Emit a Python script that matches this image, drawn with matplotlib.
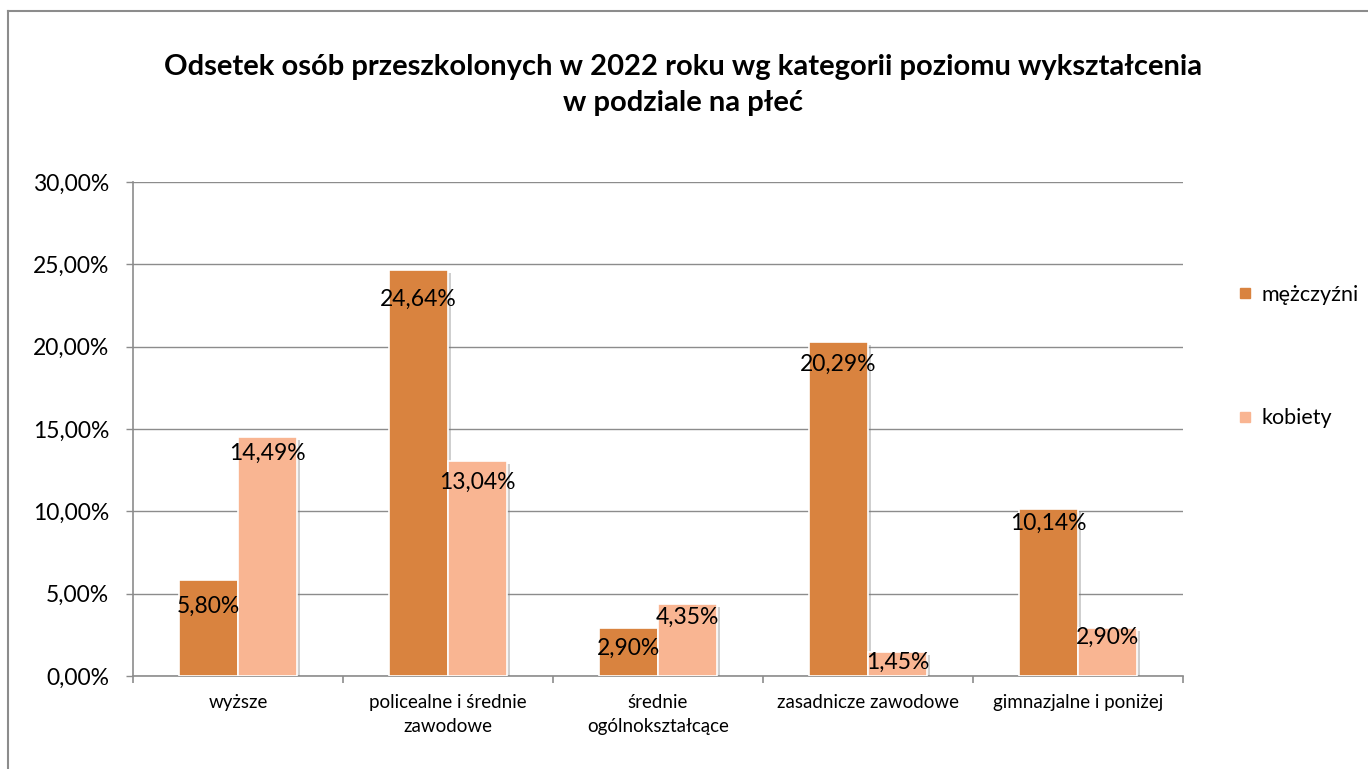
import numpy as np
import matplotlib
matplotlib.use('Agg')
import matplotlib.pyplot as plt
from matplotlib.lines import Line2D
import matplotlib.patheffects as pe

plt.rcParams['font.family'] = ['Lato', 'DejaVu Sans']

#_____________________________________________________________________________
# data

categories = ['wyższe', 'policealne i średnie\nzawodowe', 'średnie\nogólnokształcące',
              'zasadnicze zawodowe', 'gimnazjalne i poniżej']
men = [5.80, 24.64, 2.90, 20.29, 10.14]
women = [14.49, 13.04, 4.35, 1.45, 2.90]
series_names = ['mężczyźni', 'kobiety']

# label drop below bar top (pixels)
men_dy = [26, 29, 20, 22, 14]
women_dy = [16, 21, 13, 10, 9]

c_men = '#D9833F'
c_women = '#F9B592'
grid_c = '#8C8C8C'

#_____________________________________________________________________________
# figure

fig = plt.figure(figsize=(13.68, 7.69), dpi=100)
ax = fig.add_axes([133/1368, 1-676/769, (1183-133)/1368, (676-182)/769])

x = np.arange(len(categories))
w = 0.28
shadow = [pe.SimplePatchShadow(offset=(2, -2), shadow_rgbFace='#777777', alpha=0.35), pe.Normal()]

b1 = ax.bar(x - w/2, men, w, color=c_men, edgecolor='white', linewidth=1.2, zorder=3)
b2 = ax.bar(x + w/2, women, w, color=c_women, edgecolor='white', linewidth=1.2, zorder=3)
for b in list(b1) + list(b2):
    b.set_path_effects(shadow)

def fmt(v):
    return ('%.2f' % v).replace('.', ',') + '%'

for i in range(len(categories)):
    ax.annotate(fmt(men[i]), (x[i] - w/2, men[i]), xytext=(0, -men_dy[i] * 0.72),
                textcoords='offset points', ha='center', va='center', fontsize=16.5, zorder=5)
    ax.annotate(fmt(women[i]), (x[i] + w/2, women[i]), xytext=(0, -women_dy[i] * 0.72),
                textcoords='offset points', ha='center', va='center', fontsize=16.5, zorder=5)

ax.set_xlim(-0.5, len(categories) - 0.5)
ax.set_ylim(0, 30)
ax.set_yticks(np.arange(0, 31, 5))
ax.set_yticklabels([('%.2f' % v).replace('.', ',') + '%' for v in np.arange(0, 31, 5)], fontsize=16.5)
ax.yaxis.grid(True, color=grid_c, linewidth=1.0, zorder=0)
ax.set_axisbelow(True)

ax.set_xticks(x)
ax.set_xticklabels(categories, fontsize=13.5, linespacing=1.5)
ax.set_xticks(np.arange(-0.5, len(categories)), minor=True)
ax.tick_params(axis='x', which='major', length=0, pad=13)
ax.tick_params(axis='x', which='minor', length=5, color=grid_c, width=1.2)
ax.tick_params(axis='y', length=5, color=grid_c, width=1.0, pad=12)

for s in ['top', 'right']:
    ax.spines[s].set_visible(False)
for s in ['left', 'bottom']:
    ax.spines[s].set_color(grid_c)
    ax.spines[s].set_linewidth(1.2)

#_____________________________________________________________________________
# legend

handles = [Line2D([], [], linestyle='none', marker='s', markersize=7, color=c_men),
           Line2D([], [], linestyle='none', marker='s', markersize=7, color=c_women)]
fig.legend(handles, series_names, loc='upper left', bbox_to_anchor=(1239/1368, 1-285/769),
           frameon=False, fontsize=15.5, handlelength=0.6, handletextpad=0.45,
           labelspacing=4.8, borderpad=0, borderaxespad=0)

#_____________________________________________________________________________
# title and outer border

fig.text(0.499, 1-67/769, 'Odsetek osób przeszkolonych w 2022 roku wg kategorii poziomu wykształcenia',
         ha='center', va='center', fontsize=21, fontweight='bold')
fig.text(0.499, 1-103/769, 'w podziale na płeć', ha='center', va='center', fontsize=21, fontweight='bold')

fig.add_artist(Line2D([8/1368, 8/1368], [0, 1-11/769], color='#8C8C8C', linewidth=1.5))
fig.add_artist(Line2D([8/1368, 1], [1-11/769, 1-11/769], color='#8C8C8C', linewidth=1.5))

fig.savefig('out.png', dpi=100)
